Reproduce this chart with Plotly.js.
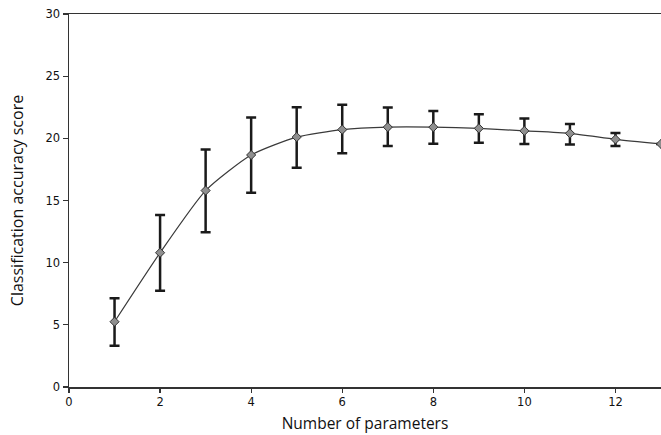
<!DOCTYPE html>
<html>
<head>
<meta charset="utf-8">
<script src="https://cdn.plot.ly/plotly-3.0.1.min.js"></script>
<style>html,body{margin:0;padding:0;background:#fff;}#chart{width:661px;height:435px;}</style>
</head>
<body>
<div id="chart"></div>
<script>
const numParams = [1, 2, 3, 4, 5, 6, 7, 8, 9, 10, 11, 12, 13];
const meanScore = [5.25, 10.8, 15.8, 18.66, 20.1, 20.7, 20.9, 20.9, 20.8, 20.6, 20.4, 19.92, 19.55];
const upperBound = [7.13, 13.84, 19.1, 21.67, 22.5, 22.7, 22.47, 22.2, 21.94, 21.6, 21.16, 20.43, 19.55];
const lowerBound = [3.32, 7.75, 12.45, 15.63, 17.64, 18.8, 19.39, 19.57, 19.65, 19.55, 19.5, 19.39, 19.55];
const xTicks = [0, 2, 4, 6, 8, 10, 12];
const yTicks = [0, 5, 10, 15, 20, 25, 30];

const errPlus = upperBound.map((u, i) => u - meanScore[i]);
const errMinus = lowerBound.map((l, i) => meanScore[i] - l);

const trace = {
  x: numParams,
  y: meanScore,
  type: 'scatter',
  mode: 'lines+markers',
  line: {color: '#3a3a3a', width: 1.2, shape: 'spline', smoothing: 0.6},
  marker: {symbol: 'diamond', size: 7, color: '#8f8f8f', line: {color: '#333', width: 1}},
  error_y: {
    type: 'data', symmetric: false,
    array: errPlus, arrayminus: errMinus,
    color: '#1a1a1a', thickness: 2.5, width: 5
  },
  showlegend: false,
  hoverinfo: 'skip'
};

const layout = {
  width: 661, height: 435,
  margin: {l: 69, r: 0, t: 14, b: 48},
  paper_bgcolor: '#fff', plot_bgcolor: '#fff',
  font: {family: 'DejaVu Sans, sans-serif', color: '#222'},
  xaxis: {
    range: [0, 13], tickvals: xTicks, ticktext: xTicks.map(String),
    ticks: 'outside', ticklen: 4, tickwidth: 1.2, tickcolor: '#333',
    showline: true, linecolor: '#333', linewidth: 1.5, mirror: true,
    showgrid: false, zeroline: false,
    tickfont: {size: 11.5, color: '#111'},
    title: {text: 'Number of parameters', font: {family: 'Open Sans, sans-serif', size: 15.5, color: '#111'}, standoff: 10}
  },
  yaxis: {
    range: [0, 30], tickvals: yTicks, ticktext: yTicks.map(String),
    ticks: 'outside', ticklen: 5, tickwidth: 1.2, tickcolor: '#333',
    showline: true, linecolor: '#333', linewidth: 1.5, mirror: true,
    showgrid: false, zeroline: false,
    tickfont: {size: 11.5, color: '#111'},
    title: {text: 'Classification accuracy score', font: {family: 'Open Sans, sans-serif', size: 16, color: '#111'}, standoff: 18}
  }
};

Plotly.newPlot('chart', [trace], layout, {displayModeBar: false, staticPlot: true});
</script>
</body>
</html>
